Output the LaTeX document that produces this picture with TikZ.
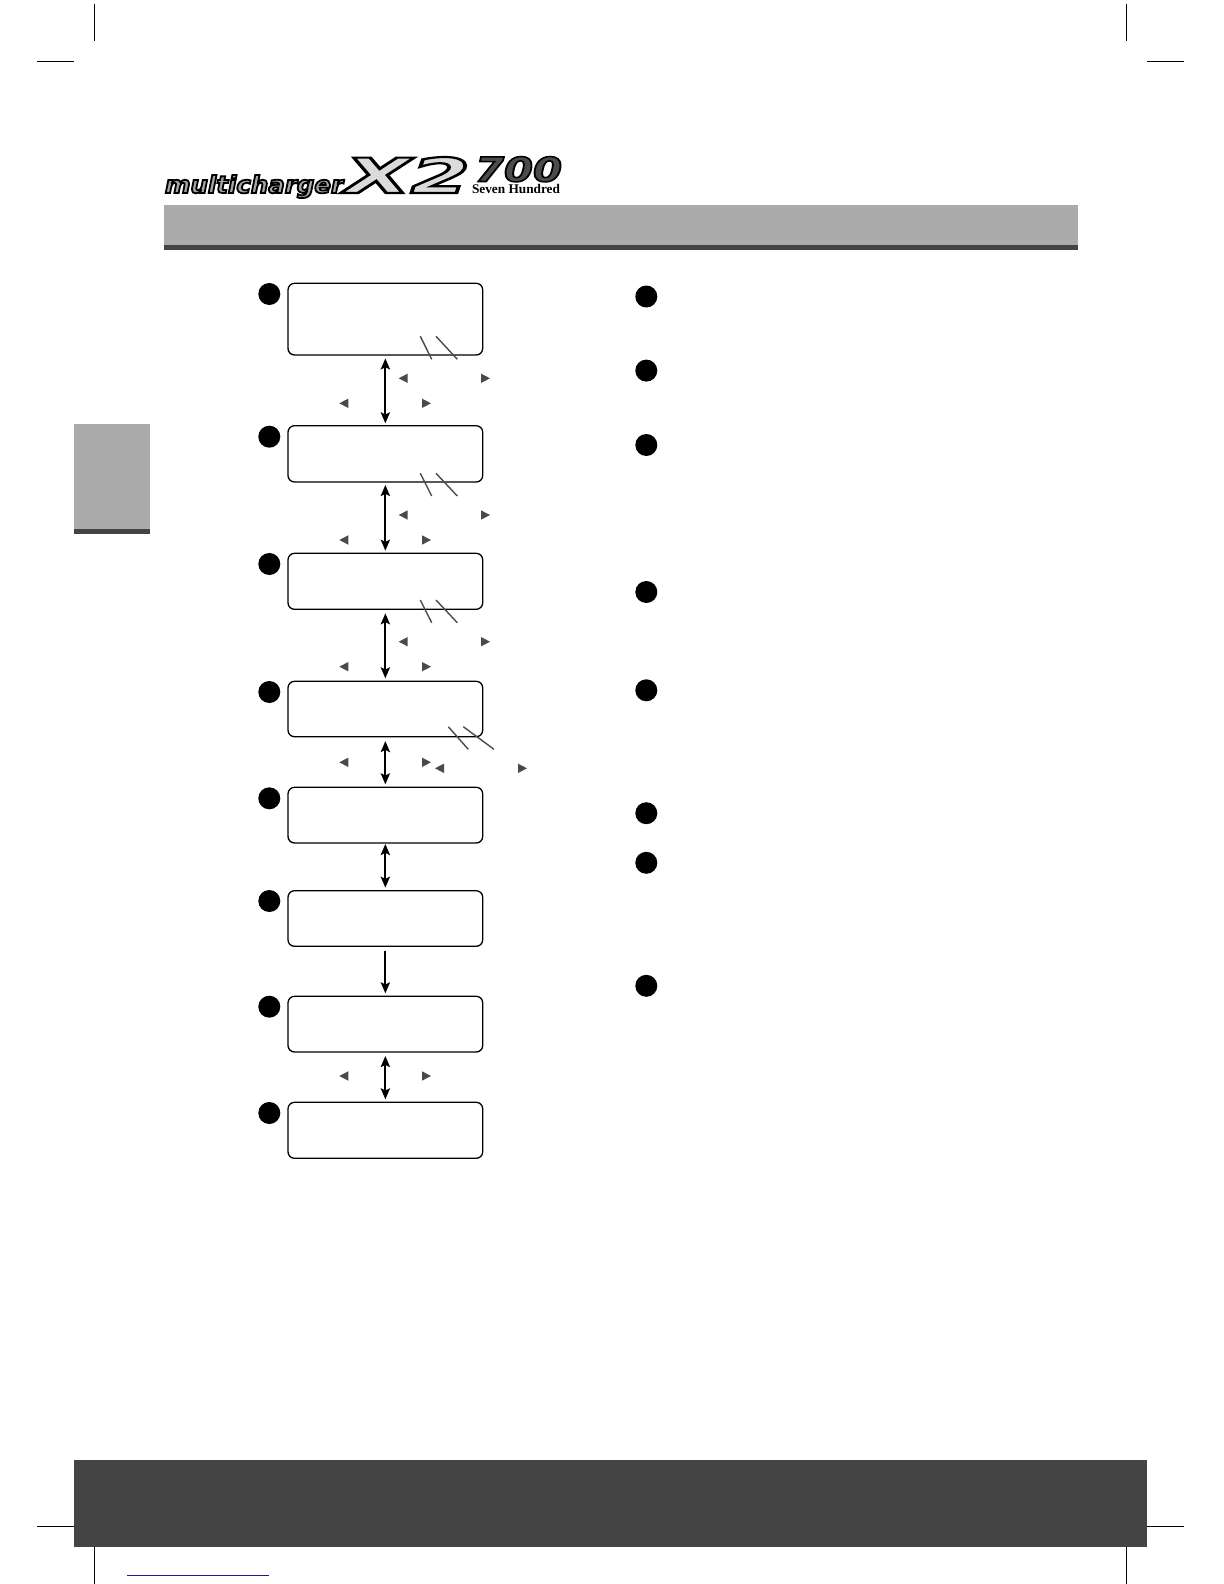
\documentclass[tikz,border=0pt]{standalone}
\usepackage{fontspec}
\usetikzlibrary{arrows.meta}
\newfontfamily\logofont[BoldItalicFont={DejaVu Sans Bold Oblique}]{DejaVu Sans}
\newfontfamily\logoserif{Liberation Serif}
\definecolor{barlight}{HTML}{ABABAB}
\definecolor{bardark}{HTML}{444444}
\definecolor{markgrey}{HTML}{4A4A4A}
\definecolor{linknavy}{HTML}{1A1A9A}
\newcommand\outlined[2]{\special{pdf:code q #1 w 0 G 2 Tr}#2\special{pdf:code Q}}
\newcommand\triL[2]{\fill[markgrey,shift={(#1,#2)}] (0,0)--(9,-4.7)--(9,4.7)--cycle;}
\newcommand\triR[2]{\fill[markgrey,shift={(#1,#2)}] (9,0)--(0,-4.7)--(0,4.7)--cycle;}
\tikzset{
  lcd/.style={draw=black,line width=0.65pt,rounded corners=3.25pt,minimum width=97.35pt,minimum height=#1*0.5pt,outer sep=0pt,inner sep=0pt},
  dot/.style={circle,fill=black,minimum size=11pt,inner sep=0pt,outer sep=0pt},
  updown/.style={line width=1pt,{Stealth[length=5.5pt,width=4.6pt,inset=1.1pt]}-{Stealth[length=5.5pt,width=4.6pt,inset=1.1pt]}},
  downonly/.style={line width=1pt,-{Stealth[length=5.5pt,width=4.6pt,inset=1.1pt]}},
  callout/.style={draw=markgrey,line width=0.7pt},
  crop/.style={draw=black,line width=0.5pt},
  logotext/.style={inner sep=0pt,outer sep=0pt,anchor=base west}
}
\begin{document}
\begin{tikzpicture}[x=0.5pt,y=-0.5pt]
\useasboundingbox (0,0) rectangle (1224,1584);
% crop marks
\draw[crop] (94.3,4)--(94.3,41) (37,61.3)--(74,61.3) (1126.3,4)--(1126.3,41) (1147,61.3)--(1184,61.3);
\draw[crop] (37,1526.3)--(74,1526.3) (94.3,1547)--(94.3,1584) (1147,1526.3)--(1184,1526.3) (1126.3,1547)--(1126.3,1584);
% bars
\fill[barlight] (164,205) rectangle (1078,245);
\fill[bardark] (164,245) rectangle (1078,250);
\fill[barlight] (74,424) rectangle (150,529);
\fill[bardark] (74,529) rectangle (150,534);
\fill[bardark] (74,1460) rectangle (1147,1547);
\draw[linknavy,line width=0.6pt] (127,1575.3)--(269,1575.3);
% logo
\node[logotext] (logoa) at (165,193) {\resizebox{89pt}{9pt}{\logofont\bfseries\itshape\color{black!35}\outlined{0.75}{multicharger}}};
\node[logotext] (logob) at (345,193) {\resizebox{62.5pt}{18pt}{\logofont\bfseries\itshape\color{black!14}\outlined{0.45}{X2}}};
\node[logotext] (logoc) at (475,181.5) {\resizebox{43.5pt}{12.5pt}{\logofont\bfseries\itshape\color{black!70}\outlined{0.45}{700}}};
\node[logotext] (logod) at (472,193) {\resizebox{44pt}{4.6pt}{\logoserif\bfseries\color{black}Seven Hundred}};
% boxes
\node[lcd=71.7] (b1) at (385.35,319.15) {};
\node[lcd=56.3] (b2) at (385.35,453.85) {};
\node[lcd=56]   (b3) at (385.35,581.3) {};
\node[lcd=55.4] (b4) at (385.35,709) {};
\node[lcd=55.7] (b5) at (385.35,815.15) {};
\node[lcd=55.6] (b6) at (385.35,918.5) {};
\node[lcd=55.7] (b7) at (385.35,1024.15) {};
\node[lcd=56]   (b8) at (385.35,1130.3) {};
% left dots
\node[dot] (l1) at (269.3,294) {};
\node[dot] (l2) at (269.3,436.7) {};
\node[dot] (l3) at (269.3,564) {};
\node[dot] (l4) at (269.3,692) {};
\node[dot] (l5) at (269.3,798.3) {};
\node[dot] (l6) at (269.3,901) {};
\node[dot] (l7) at (269.3,1006.7) {};
\node[dot] (l8) at (269.3,1113) {};
% right dots
\node[dot] (r1) at (646.3,296.5) {};
\node[dot] (r2) at (646.3,370.6) {};
\node[dot] (r3) at (646.3,445) {};
\node[dot] (r4) at (646.3,592) {};
\node[dot] (r5) at (646.3,690.3) {};
\node[dot] (r6) at (646.3,813.2) {};
\node[dot] (r7) at (646.3,862.8) {};
\node[dot] (r8) at (646.3,985.8) {};
% connectors
\draw[updown,shorten <=1.7pt,shorten >=1.2pt] (b1.south)--(b2.north);
\draw[updown,shorten <=1.5pt,shorten >=1.3pt] (b2.south)--(b3.north);
\draw[updown,shorten <=2pt,shorten >=1.5pt] (b3.south)--(b4.north);
\draw[updown,shorten <=2.2pt,shorten >=1.5pt] (b4.south)--(b5.north);
\draw[updown,shorten <=0.5pt,shorten >=1.5pt] (b5.south)--(b6.north);
\draw[downonly,shorten <=2.2pt,shorten >=1.5pt] (b6.south)--(b7.north);
\draw[updown,shorten <=2pt,shorten >=1.5pt] (b7.south)--(b8.north);
% triangles
\triL{398.7}{378.3}\triR{481}{378.3}\triL{339.3}{403.3}\triR{422}{403.3}
\triL{398.7}{515}\triR{481}{515}\triL{339.3}{540}\triR{422}{540}
\triL{398.7}{641.7}\triR{481}{641.7}\triL{339.3}{666.7}\triR{422}{666.7}
\triL{339.3}{762.3}\triR{422}{762.3}\triL{435}{768.3}\triR{518}{768.3}
\triL{339.3}{1076}\triR{422}{1076}
% callout strokes
\coordinate (s1a) at (420.3,336.3); \coordinate (s1b) at (431.7,359.3);
\coordinate (s1c) at (436,336.3);   \coordinate (s1d) at (457.3,359.3);
\coordinate (s2a) at (420.3,473.3); \coordinate (s2b) at (431.7,496);
\coordinate (s2c) at (436,473.3);   \coordinate (s2d) at (457.3,496);
\coordinate (s3a) at (420.3,600);   \coordinate (s3b) at (431.7,622.7);
\coordinate (s3c) at (436,600);     \coordinate (s3d) at (457.3,622.7);
\coordinate (s4a) at (448.3,726.7); \coordinate (s4b) at (468.3,749.3);
\coordinate (s4c) at (463.3,726.7); \coordinate (s4d) at (494,749.3);
\draw[callout] (s1a)--(s1b) (s1c)--(s1d) (s2a)--(s2b) (s2c)--(s2d);
\draw[callout] (s3a)--(s3b) (s3c)--(s3d) (s4a)--(s4b) (s4c)--(s4d);
\end{tikzpicture}
\end{document}
